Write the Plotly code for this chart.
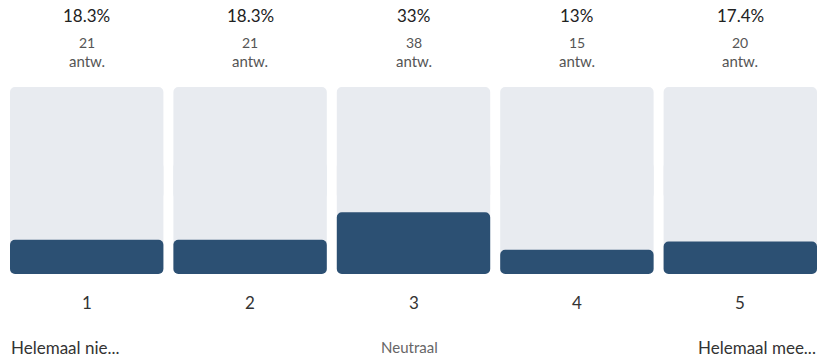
import plotly.graph_objects as go

categories = ["1", "2", "3", "4", "5"]
percentages = [18.3, 18.3, 33, 13, 17.4]
pct_labels = ["18.3%", "18.3%", "33%", "13%", "17.4%"]
counts = [21, 21, 38, 15, 20]
count_unit = "antw."
scale_labels = ["Helemaal nie...", "Neutraal", "Helemaal mee..."]

FULL = 100
GRAY = "#e8ebf0"
BLUE = "#2c5073"
FONT = "Lato"

W, H = 833, 362
ML, MT = 10, 87
PW = 807
MR = W - ML - PW
MB = H - 274
PH = H - MT - MB
SLOT = (PW + 10) / len(categories)
EDGE = 5 / SLOT

def py(p):
    return (H - MB - p) / PH

def px(p):
    return (p - ML) / PW

xs = list(range(len(categories)))
fig = go.Figure()
fig.add_trace(go.Bar(x=xs, y=[FULL * 0.6] * len(xs), base=[FULL * 0.4] * len(xs),
                     marker=dict(color=GRAY, line=dict(width=0)), hoverinfo="skip"))
fig.add_trace(go.Bar(x=xs, y=[-FULL * 0.6] * len(xs), base=[FULL * 0.6] * len(xs),
                     marker=dict(color=GRAY, line=dict(width=0)), hoverinfo="skip"))
fig.add_trace(go.Bar(x=xs, y=[-v for v in percentages], base=percentages,
                     marker=dict(color=BLUE, line=dict(width=0)),
                     hovertemplate="%{customdata}<extra></extra>", customdata=pct_labels))

ann = []
for i, c in enumerate(categories):
    ann.append(dict(x=i, y=py(15), xref="x", yref="paper", text=pct_labels[i], showarrow=False,
                    font=dict(family=FONT, size=17, color="#222222"), xanchor="center", yanchor="middle"))
    ann.append(dict(x=i, y=py(42.5), xref="x", yref="paper", text=str(counts[i]), showarrow=False,
                    font=dict(family=FONT, size=14, color="#555555"), xanchor="center", yanchor="middle"))
    ann.append(dict(x=i, y=py(61.5), xref="x", yref="paper", text=count_unit, showarrow=False,
                    font=dict(family=FONT, size=15, color="#555555"), xanchor="center", yanchor="middle"))
    ann.append(dict(x=i, y=py(302), xref="x", yref="paper", text=c, showarrow=False,
                    font=dict(family=FONT, size=17, color="#333333"), xanchor="center", yanchor="middle"))
ann.append(dict(x=px(9), y=py(347), xref="paper", yref="paper", text=scale_labels[0], showarrow=False,
                font=dict(family=FONT, size=17, color="#333333"), xanchor="left", yanchor="middle"))
ann.append(dict(x=px(409), y=py(347), xref="paper", yref="paper", text=scale_labels[1], showarrow=False,
                font=dict(family=FONT, size=15, color="#666666"), xanchor="center", yanchor="middle"))
ann.append(dict(x=px(818), y=py(347), xref="paper", yref="paper", text=scale_labels[2], showarrow=False,
                font=dict(family=FONT, size=17, color="#333333"), xanchor="right", yanchor="middle"))

fig.update_layout(
    width=W, height=H,
    margin=dict(l=ML, r=MR, t=MT, b=MB, pad=0),
    barmode="overlay", bargap=10 / SLOT, barcornerradius=5,
    showlegend=False,
    paper_bgcolor="white", plot_bgcolor="white",
    xaxis=dict(range=[-0.5 + EDGE, len(categories) - 0.5 - EDGE], visible=False, fixedrange=True),
    yaxis=dict(range=[0, FULL], visible=False, fixedrange=True),
    annotations=ann,
    font=dict(family=FONT),
)
fig.write_html("out.html", config={"displayModeBar": False},
               post_script="document.body.style.margin='0';document.body.style.overflow='hidden';")
